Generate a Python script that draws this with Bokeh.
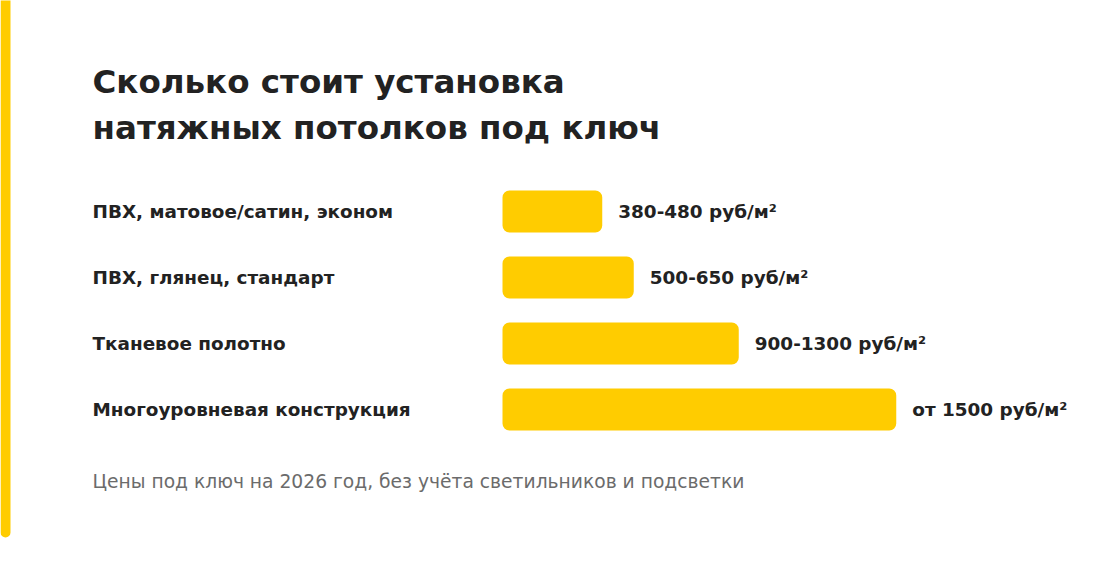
from bokeh.plotting import figure
from bokeh.models import ColumnDataSource, Range1d, Label, BoxAnnotation
from bokeh.core.properties import value
from bokeh.embed import file_html
from bokeh.resources import INLINE

# данные
categories = ["ПВХ, матовое/сатин, эконом", "ПВХ, глянец, стандарт",
              "Тканевое полотно", "Многоуровневая конструкция"]
price_from = [380, 500, 900, 1500]
price_labels = ["380-480 руб/м²", "500-650 руб/м²", "900-1300 руб/м²", "от 1500 руб/м²"]
rows = [0, 1, 2, 3]

title_lines = ["Сколько стоит установка", "натяжных потолков под ключ"]
note = "Цены под ключ на 2026 год, без учёта светильников и подсветки"

YELLOW = "#FFCC00"
DARK = "#222222"
FONT = "DejaVu Sans"

W, H = 1100, 578
px_per_rub = 0.2625
x0 = 502           # where 0 rub sits, screen px
row0, row_step = 211, 66

p = figure(width=W, height=H, output_backend="svg", toolbar_location=None,
           min_border=0, outline_line_color=None,
           x_range=Range1d(-x0 / px_per_rub, (W - x0) / px_per_rub),
           y_range=Range1d((H - row0) / row_step, -row0 / row_step))
p.axis.visible = False
p.grid.visible = False
p.background_fill_color = "white"
p.border_fill_color = "white"

src = ColumnDataSource(data=dict(y=rows, right=price_from, cat=categories, lab=price_labels))

p.hbar(y="y", left=0, right="right", height=42 / row_step, source=src,
       fill_color=YELLOW, line_color=None, border_radius=7)

p.text(x=0, y="y", text="cat", source=src, x_offset=-(x0 - 92), y_offset=0,
       text_font=value(FONT), text_font_style="bold", text_font_size="18.4px",
       text_color=DARK, text_align="left", text_baseline="alphabetic")

p.text(x="right", y="y", text="lab", source=src, x_offset=16, y_offset=0,
       text_font=value(FONT), text_font_style="bold", text_font_size="18.4px",
       text_color=DARK, text_align="left", text_baseline="alphabetic")

# заголовок
for line, yb in zip(title_lines, [H - 81, H - 127]):
    p.add_layout(Label(x=92, y=yb, x_units="screen", y_units="screen", text=line,
                       text_font=FONT, text_font_style="bold", text_font_size="32.5px",
                       text_color=DARK, text_baseline="alphabetic"))

p.add_layout(Label(x=92, y=H - 481, x_units="screen", y_units="screen", text=note,
                   text_font=FONT, text_font_size="18.7px", text_color="#6b6b6b",
                   text_baseline="alphabetic"))

# жёлтая полоса слева
p.add_layout(BoxAnnotation(left=0, right=10, bottom=H - 537, top=H + 10,
                           left_units="screen", right_units="screen",
                           bottom_units="screen", top_units="screen",
                           fill_color=YELLOW, fill_alpha=1, line_color=None,
                           border_radius=5))

open("out.html", "w").write(file_html(p, INLINE))
